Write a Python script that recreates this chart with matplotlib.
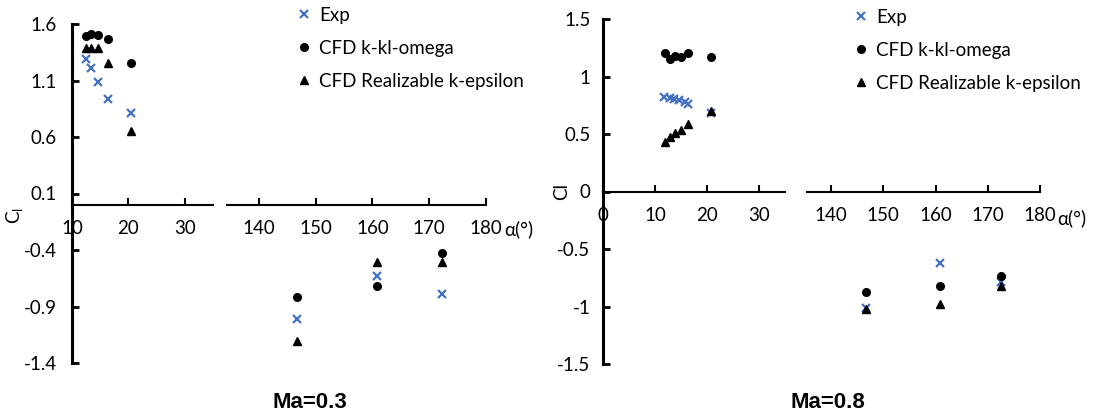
import numpy as np
import matplotlib.pyplot as plt

plt.rcParams['font.family'] = ['Lato', 'DejaVu Sans']
plt.rcParams['axes.unicode_minus'] = False

# Ma=0.3
a03_low = [12.4, 13.4, 14.6, 16.4, 20.5]
exp03_low = [1.288, 1.213, 1.089, 0.936, 0.810]
kkl03_low = [1.494, 1.509, 1.503, 1.465, 1.252]
rke03_low = [1.385, 1.385, 1.385, 1.252, 0.656]
a03_high = [146.7, 160.8, 172.3]
exp03_high = [-1.008, -0.634, -0.786]
kkl03_high = [-0.815, -0.719, -0.429]
rke03_high = [-1.201, -0.502, -0.502]

# Ma=0.8
a08_exp_low = [11.8, 12.8, 13.7, 14.7, 15.7, 16.4, 20.8]
exp08_low = [0.825, 0.817, 0.805, 0.796, 0.782, 0.759, 0.681]
a08_low = [11.9, 12.9, 13.9, 15.0, 16.4, 20.8]
kkl08_low = [1.202, 1.150, 1.179, 1.173, 1.208, 1.173]
rke08_low = [0.434, 0.478, 0.507, 0.536, 0.585, 0.704]
a08_high = [146.7, 160.8, 172.5]
exp08_high = [-1.009, -0.623, -0.784]
kkl08_high = [-0.871, -0.819, -0.731]
rke08_high = [-1.026, -0.982, -0.822]

yt03 = [1.6, 1.1, 0.6, 0.1, -0.4, -0.9, -1.4]
yt03_lab = ['1.6', '1.1', '0.6', '0.1', '-0.4', '-0.9', '-1.4']
yt08 = [1.5, 1, 0.5, 0, -0.5, -1, -1.5]
yt08_lab = ['1.5', '1', '0.5', '0', '-0.5', '-1', '-1.5']

labels = ['Exp', 'CFD k-kl-omega', 'CFD Realizable k-epsilon']
blue = '#4472C4'
fs = 13.5

fig = plt.figure(figsize=(10.95, 4.16), dpi=100)
W, H = 1095.0, 416.0


def make_axes(xl0, xl1, xr0, xr1, top, bot):
    axl = fig.add_axes([xl0 / W, 1 - bot / H, (xl1 - xl0) / W, (bot - top) / H])
    axr = fig.add_axes([xr0 / W, 1 - bot / H, (xr1 - xr0) / W, (bot - top) / H])
    for ax in (axl, axr):
        ax.patch.set_visible(False)
        ax.spines['top'].set_visible(False)
        ax.spines['right'].set_visible(False)
        ax.spines['bottom'].set_position(('data', 0))
        ax.spines['bottom'].set_linewidth(1.5)
        ax.tick_params(axis='x', direction='in', length=5, width=1.5, pad=11, labelsize=fs)
    axl.spines['left'].set_linewidth(2.2)
    axl.tick_params(axis='y', direction='in', length=5, width=2, labelsize=fs)
    axr.spines['left'].set_visible(False)
    axr.set_yticks([])
    return axl, axr


def draw(axl, axr, ax_exp, e_low, a_low, k_low, r_low, a_high, e_high, k_high, r_high):
    kw = dict(linestyle='none', clip_on=False)
    axl.plot(ax_exp, e_low, marker='x', color=blue, ms=6, mew=1.6, label=labels[0], **kw)
    axl.plot(a_low, k_low, marker='o', color='black', ms=5.5, label=labels[1], **kw)
    axl.plot(a_low, r_low, marker='^', color='black', ms=5.5, label=labels[2], **kw)
    axr.plot(a_high, e_high, marker='x', color=blue, ms=6, mew=1.6, **kw)
    axr.plot(a_high, k_high, marker='o', color='black', ms=5.5, **kw)
    axr.plot(a_high, r_high, marker='^', color='black', ms=5.5, **kw)


# left panel, Ma=0.3
l1, r1 = make_axes(72, 213, 227, 486, 24, 363)
draw(l1, r1, a03_low, exp03_low, a03_low, kkl03_low, rke03_low,
     a03_high, exp03_high, kkl03_high, rke03_high)
for ax in (l1, r1):
    ax.set_ylim(-1.4, 1.6)
l1.set_xlim(10, 35)
l1.set_xticks([10, 20, 30])
r1.set_xlim(134.4, 180)
r1.set_xticks([140, 150, 160, 170, 180])
l1.set_yticks(yt03)
l1.set_yticklabels(yt03_lab)
l1.tick_params(axis='y', pad=11)

# right panel, Ma=0.8
l2, r2 = make_axes(603, 785, 807, 1040, 19, 364)
draw(l2, r2, a08_exp_low, exp08_low, a08_low, kkl08_low, rke08_low,
     a08_high, exp08_high, kkl08_high, rke08_high)
for ax in (l2, r2):
    ax.set_ylim(-1.5, 1.5)
l2.set_xlim(0, 35)
l2.set_xticks([0, 10, 20, 30])
r2.set_xlim(135.4, 180)
r2.set_xticks([140, 150, 160, 170, 180])
l2.set_yticks(yt08)
l2.set_yticklabels(yt08_lab)
l2.tick_params(axis='y', pad=9)

for ax, x0, y0 in ((l1, 296, 7), (l2, 853, 9)):
    fig.legend(*ax.get_legend_handles_labels(), loc='upper left',
               bbox_to_anchor=(x0 / W, 1 - y0 / H), frameon=False, fontsize=fs,
               handlelength=0.9, handletextpad=0.35, labelspacing=0.85, borderpad=0,
               borderaxespad=0)

fig.text(504 / W, 1 - 229 / H, 'α(°)', fontsize=fs, va='center', ha='left')
fig.text(1057 / W, 1 - 218 / H, 'α(°)', fontsize=fs, va='center', ha='left')
fig.text(15 / W, 1 - 216 / H, r'C$_\mathregular{l}$', fontsize=fs, rotation=90,
         va='center', ha='center')
fig.text(562 / W, 1 - 191 / H, 'Cl', fontsize=fs, rotation=90, va='center', ha='center')

fig.text(310 / W, 1 - 402 / H, 'Ma=0.3', fontsize=16, fontweight='bold',
         family='Liberation Sans', ha='center', va='center')
fig.text(828 / W, 1 - 402 / H, 'Ma=0.8', fontsize=16, fontweight='bold',
         family='Liberation Sans', ha='center', va='center')

plt.savefig('out.png', dpi=100)
